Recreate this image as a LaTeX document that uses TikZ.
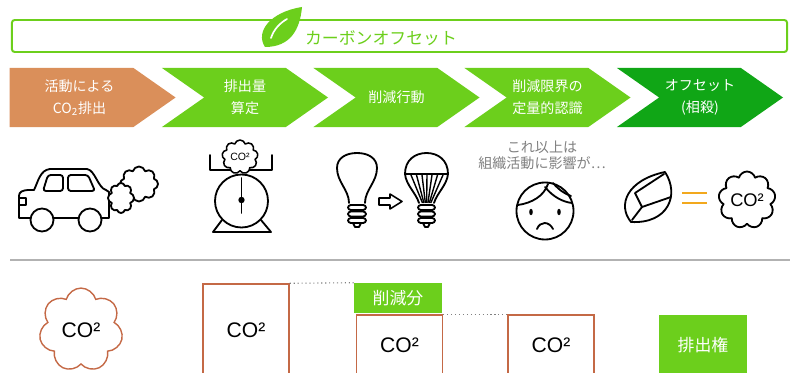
\documentclass[tikz,border=0pt]{standalone}
\usepackage{fontspec}
\setmainfont{Noto Sans CJK JP}
\newfontfamily\latinfont{Liberation Sans}
\usetikzlibrary{shapes.symbols}

\definecolor{leafgreen}{HTML}{6CCF1C}
\definecolor{deepgreen}{HTML}{10A616}
\definecolor{emitorange}{HTML}{DA8F5A}
\definecolor{co2brown}{HTML}{C46946}
\definecolor{eqorange}{HTML}{F2A81D}

\begin{document}
\begin{tikzpicture}[x=0.025cm, y=-0.025cm,
  stage/.style={signal, signal to=east, signal from=west, signal pointer angle=70,
    minimum width=4.15cm, minimum height=1.475cm, inner sep=0pt, text=white,
    align=center, font=\fontsize{10}{15.5}\selectfont},
  icon/.style={line width=1.3pt, line cap=round, line join=round},
  puff/.style={cloud, cloud puffs=8, draw, icon, fill=white, inner sep=0pt},
  co2box/.style={draw=co2brown, line width=1pt, minimum width=2.15cm,
    font=\latinfont\fontsize{15}{15}\selectfont},
  tag/.style={fill=leafgreen, text=white, minimum width=2.2cm, font=\fontsize{12}{12}\selectfont}
]
\useasboundingbox (0,0) rectangle (797,373);

% title banner
\node[draw=leafgreen, line width=1.4pt, rounded corners=2pt, minimum width=19.375cm,
  minimum height=0.8cm] (banner) at (399.5,36) {};
\fill[leafgreen] (265,47) .. controls (255,32) and (270,12) .. (302,7)
  .. controls (300,30) and (290,47) .. (265,47) -- cycle;
\draw[white, line width=1.2pt, line cap=round] (271,38) .. controls (274,29) and (280,23) .. (287,19);
\node[text=leafgreen, font=\fontsize{12}{12}\selectfont] (title) at (381,38) {カーボンオフセット};

% process steps
\node[stage, signal from=nowhere, fill=emitorange] (emit) at (71.5,97.5)
  {\hspace*{0.4cm}活動による\\\hspace*{0.4cm}CO\textsubscript{2}排出};
\node[stage, fill=leafgreen] (calc) at (245,97.5) {排出量\\算定};
\node[stage, fill=leafgreen] (reduce) at (396.5,97.5) {削減行動};
\node[stage, fill=leafgreen] (limit) at (547.5,97.5) {削減限界の\\定量的認識};
\node[stage, fill=deepgreen] (offset) at (700,97.5) {オフセット\\(相殺)};

% car with exhaust
\draw[icon] (30,218) -- (19,218) -- (19,196) .. controls (19,192) and (22,190) .. (30,190) -- (34,190)
  .. controls (38,182) and (40,170) .. (50,169) -- (87,169) .. controls (95,170) and (98,188) .. (106,190)
  -- (109,192) -- (109,218) -- (102,218);
\draw[icon] (54,218) -- (78,218);
\draw[icon] (42,220) circle[radius=11.5];
\draw[icon] (90,220) circle[radius=11.5];
\draw[icon, rounded corners=2pt] (43,191) -- (48,175) -- (63,175) -- (63,191) -- cycle;
\draw[icon, rounded corners=2pt] (68,175) -- (88,175) -- (95,191) -- (68,191) -- cycle;
\draw[icon] (19,198) -- (26,198) -- (26,205) -- (19,205);
\node[puff, minimum width=0.95cm, minimum height=0.875cm] (smoke2) at (139,184) {};
\node[puff, minimum width=0.65cm, minimum height=0.75cm] (smoke1) at (121,198) {};

% scale
\draw[icon] (210,155) -- (210,170) -- (272,170) -- (272,155);
\draw[icon] (241.5,201) circle[radius=26.5];
\draw[icon] (222,220) -- (213,232) -- (271,232) -- (261,220);
\draw[icon] (241.5,178) -- (241.5,213);
\fill (241.5,200) circle[radius=3.2];
\node[puff, cloud puffs=9, line width=1.1pt, minimum width=0.9cm, minimum height=0.85cm,
  font=\latinfont\fontsize{7.5}{7.5}\selectfont] (scaleco) at (240,157) {CO²};

% light bulbs
\draw[icon] (349,203) .. controls (349,190) and (337,182) .. (337,168) .. controls (337,158) and (346,153) .. (357,153)
  .. controls (368,153) and (377,158) .. (377,168) .. controls (377,182) and (365,190) .. (365,203);
\foreach \yy in {205,211.5,218}
  \draw[icon, rounded corners=2pt] (348,\yy) rectangle (366,\yy+5);
\draw[icon] (353,223) -- (355,227) -- (359,227) -- (361,223);
\draw[icon, line width=1.1pt] (379,198) -- (390,198) -- (390,194) -- (402,201.5) -- (390,209) -- (390,205) -- (379,205) -- cycle;
\draw[icon] (405,174) .. controls (405,160) and (415,153) .. (426.5,153) .. controls (438,153) and (448,160) .. (448,174) -- cycle;
\draw[icon] (405,174) .. controls (406,185) and (416,193) .. (419,203);
\draw[icon] (448,174) .. controls (447,185) and (437,193) .. (434,203);
\foreach \xx in {411,416.5,422,427,432,437.5,443}
  \draw[line width=1pt] (\xx,175) -- ({421+(\xx-405)*11/43},203);
\foreach \yy in {205,211.5,218}
  \draw[icon, rounded corners=2pt] (418,\yy) rectangle (435,\yy+5);
\draw[icon] (423,223) -- (425,227) -- (428,227) -- (430,223);

% worried face
\node[text=gray, align=center, font=\fontsize{10}{11.5}\selectfont] (worry) at (542,155) {これ以上は\\組織活動に影響が…};
\draw[icon] (545,211) circle[radius=28.5];
\draw[icon] (518,205) .. controls (532,203) and (544,196) .. (548,184);
\draw[icon] (545,187) .. controls (553,197) and (563,202) .. (572,203);
\draw[icon] (553,183) .. controls (559,190) and (565,194) .. (571,196);
\fill (531,212) ellipse[x radius=1.8, y radius=3.2];
\fill (559,212) ellipse[x radius=1.8, y radius=3.2];
\draw[icon] (537,229) .. controls (540,221) and (549,221) .. (553,229);

% leaf equals CO2
\draw[icon] (631,222) .. controls (617,205) and (627,180) .. (665,172) .. controls (680,195) and (668,224) .. (631,222) -- cycle;
\draw[icon] (664,174) -- (635,193) -- (642,207) -- (671,197);
\draw[icon] (642,207) -- (632,220);
\draw[eqorange, line width=1.5pt] (682,193) -- (707,193);
\draw[eqorange, line width=1.5pt] (682,203) -- (707,203);
\node[puff, cloud puffs=9, minimum width=1.4cm, minimum height=1.35cm,
  font=\latinfont\fontsize{13}{13}\selectfont] (offsetco) at (747,200) {CO²};

\draw[black!30, line width=1.5pt] (10,260) -- (790,260);

% amounts
\node[cloud, cloud puffs=7, draw=co2brown, line width=1pt, minimum width=1.9cm, minimum height=1.9cm,
  font=\latinfont\fontsize{15}{15}\selectfont] (total) at (81,330) {CO²};
\node[co2box, minimum height=2.3cm] (before) at (246,330) {CO²};
\node[tag, minimum height=0.75cm] (cut) at (398,298) {削減分};
\node[co2box, minimum height=1.525cm] (after) at (399.5,345.5) {CO²};
\node[co2box, minimum height=1.525cm] (rest) at (551,345.5) {CO²};
\node[tag, minimum height=1.525cm] (credit) at (703,345.5) {排出権};
\draw[dotted, gray, thick] (before.north east) -- (cut.north west);
\draw[dotted, gray, thick] (after.north east) -- (rest.north west);
\end{tikzpicture}
\end{document}
